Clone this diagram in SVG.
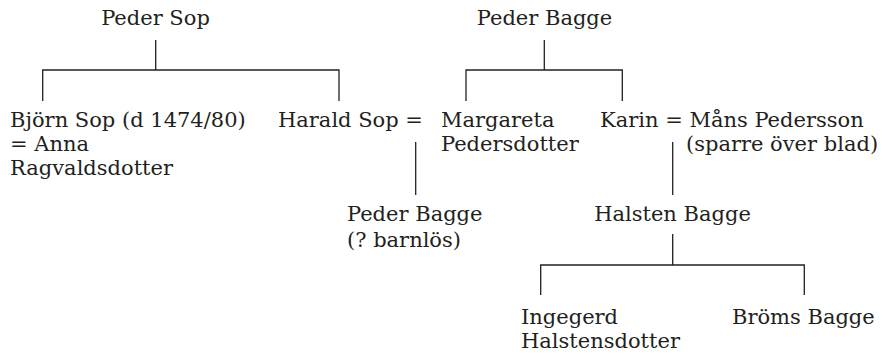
<svg xmlns="http://www.w3.org/2000/svg" width="883" height="355" viewBox="0 0 883 355">
  <style>
    text { font-family: "DejaVu Serif", "Liberation Serif", serif; font-size: 21px; fill: #231f20; }
    .c { text-anchor: middle; }
    .ln { stroke: #231f20; stroke-width: 1.3; fill: none; }
  </style>
  <rect width="883" height="355" fill="#ffffff"/>
  <g id="connectors">
    <path class="ln" d="M155.7,40 V70 M42.7,101 V70 H339 V101"/>
    <path class="ln" d="M544.3,40 V70 M466,101 V70 H622.3 V101"/>
    <path class="ln" d="M415.7,142 V195"/>
    <path class="ln" d="M672.7,142 V195"/>
    <path class="ln" d="M672.7,234 V265 M540.7,295 V265 H804.3 V295"/>
  </g>
  <g id="peder-sop"><text class="c" x="155.5" y="25">Peder Sop</text></g>
  <g id="peder-bagge-sr"><text class="c" x="544.5" y="25">Peder Bagge</text></g>
  <g id="bjorn-sop">
    <text x="10" y="127">Björn Sop (d 1474/80)</text>
    <text x="10" y="151">= Anna</text>
    <text x="10" y="175">Ragvaldsdotter</text>
  </g>
  <g id="harald-sop"><text x="278" y="127">Harald Sop =</text></g>
  <g id="margareta">
    <text x="441" y="127">Margareta</text>
    <text x="441" y="151">Pedersdotter</text>
  </g>
  <g id="karin">
    <text x="600" y="127">Karin = Måns Pedersson</text>
    <text x="686" y="151">(sparre över blad)</text>
  </g>
  <g id="peder-bagge-jr">
    <text x="347" y="221">Peder Bagge</text>
    <text x="347" y="247">(? barnlös)</text>
  </g>
  <g id="halsten-bagge"><text class="c" x="672.5" y="221">Halsten Bagge</text></g>
  <g id="ingegerd">
    <text x="521" y="324">Ingegerd</text>
    <text x="521" y="348">Halstensdotter</text>
  </g>
  <g id="broms-bagge"><text x="732" y="324">Bröms Bagge</text></g>
</svg>
